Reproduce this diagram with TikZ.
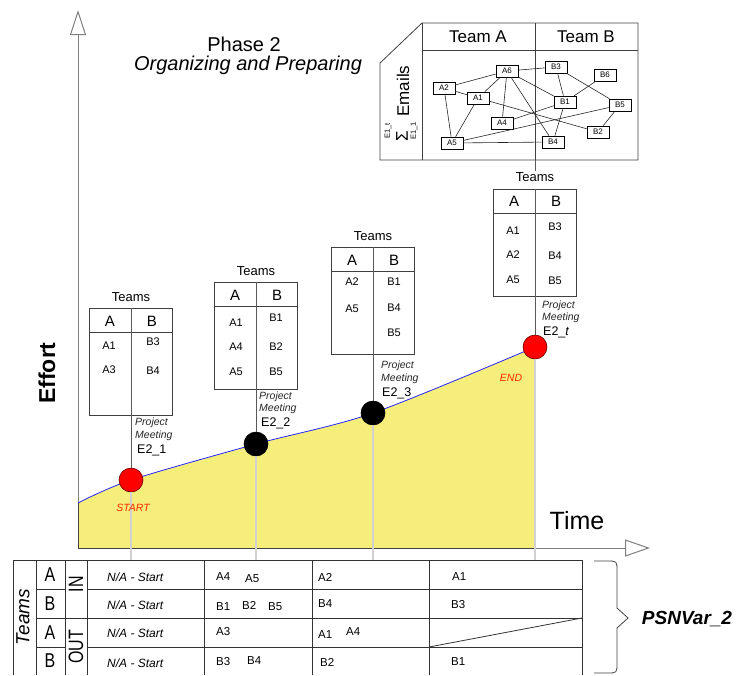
\documentclass[tikz,border=0pt]{standalone}
\usepackage{fontspec}
\setmainfont{Liberation Sans}
\usetikzlibrary{arrows.meta}
\definecolor{yel}{RGB}{245,238,122}
\definecolor{ptred}{RGB}{255,0,0}
\definecolor{lbred}{RGB}{255,40,0}
\newcommand{\FSz}[1]{\fontsize{#1}{#1}\selectfont}
\begin{document}
\begin{tikzpicture}[x=1pt,y=-1pt,
  axis/.style={draw=black!50, line width=1pt},
  ptbase/.style={circle, minimum size=24pt, inner sep=0pt, line width=0.6pt},
  redpt/.style={ptbase, fill=ptred, draw=red!40!black},
  blkpt/.style={ptbase, fill=black, draw=black},
  tabbox/.style={draw=black!75, line width=0.8pt, minimum width=83pt, minimum height=107pt, inner sep=0pt},
  tabline/.style={draw=black!75, line width=0.8pt},
  conn/.style={draw=black!65, line width=0.9pt},
  light/.style={draw=black!18, line width=1.2pt},
  teamslbl/.style={font=\FSz{13}, inner sep=1pt},
  hdr/.style={font=\FSz{15}, inner sep=0pt},
  ent/.style={font=\FSz{11}, inner sep=0pt},
  meet/.style={font=\FSz{10.5}\itshape, inner sep=0pt, anchor=west, text=black!85},
  evt/.style={font=\FSz{12.5}, inner sep=0pt, anchor=west},
  net/.style={draw=black, fill=white, line width=0.6pt, minimum width=22pt, minimum height=12pt, inner sep=0pt, font=\FSz{8}},
  netedge/.style={draw=black!85, line width=0.6pt},
  grid/.style={draw=black!80, line width=0.8pt},
  cell/.style={font=\FSz{11.5}, inner sep=0pt, anchor=west},
  nastyle/.style={font=\FSz{12}\itshape, inner sep=0pt, anchor=west},
  big/.style={font=\FSz{16}, inner sep=0pt},
]
\useasboundingbox (0,0) rectangle (736,675);

% --- effort area ---
\fill[yel] (78,548) -- plot[smooth] coordinates {(78,503) (131,480) (256,444) (373,413) (535,347)} -- (535,548) -- cycle;
\draw[axis, -{Triangle[open, length=25pt, width=16pt, fill=white]}] (78,548) -- (78,10);
\draw[axis, -{Triangle[open, length=25pt, width=17pt, fill=white]}] (78,548) -- (650,548);
\draw[black!75, line width=0.8pt] (78,503) -- (78,548) -- (535,548);
\draw[blue!85, line width=0.8pt] plot[smooth] coordinates {(78,503) (131,480) (256,444) (373,413) (535,347)};

% --- meeting points ---
\node[redpt] (p1) at (131,480) {};
\node[blkpt] (p2) at (256,444) {};
\node[blkpt] (p3) at (373,413) {};
\node[redpt] (p4) at (535,347) {};
\coordinate (b1) at (131,560);
\coordinate (b2) at (256,560);
\coordinate (b3) at (373,560);
\coordinate (b4) at (535,560);
\draw[light] (p1.south) -- (b1);
\draw[light] (p2.south) -- (b2);
\draw[light] (p3.south) -- (b3);
\draw[light] (p4.south) -- (b4);
\node[font=\FSz{10.5}\itshape, text=lbred, inner sep=0pt] (st) at (133,508) {START};
\node[font=\FSz{10.5}\itshape, text=lbred, inner sep=0pt] (en) at (511,378) {END};

% --- team tables ---
\node[tabbox] (t1) at (131,361.5) {};
\node[tabbox] (t2) at (256,335.5) {};
\node[tabbox] (t3) at (373,300.5) {};
\node[tabbox] (t4) at (535,242.5) {};
\foreach \t in {t1,t2,t3,t4}{
  \draw[tabline] ([yshift=-25pt]\t.north west) -- ([yshift=-25pt]\t.north east);
}
\draw[conn] (t1.north) -- (p1.north);
\draw[conn] (t2.north) -- (p2.north);
\draw[conn] (t3.north) -- (p3.north);
\draw[conn] (t4.north) -- (p4.north);

\node[teamslbl] (tl1) at (131,297) {Teams};
\node[teamslbl] (tl2) at (256,271) {Teams};
\node[teamslbl] (tl3) at (373,236) {Teams};
\node[teamslbl] (tl4) at (535,177) {Teams};

\node[hdr] (h1a) at (110,321) {A};
\node[hdr] (h1b) at (152,321) {B};
\node[hdr] (h2a) at (235,295) {A};
\node[hdr] (h2b) at (277,295) {B};
\node[hdr] (h3a) at (352,260) {A};
\node[hdr] (h3b) at (394,260) {B};
\node[hdr] (h4a) at (514,201) {A};
\node[hdr] (h4b) at (556,201) {B};

\node[ent] (e1a1) at (109,346) {A1};
\node[ent] (e1a3) at (109,370) {A3};
\node[ent] (e1b3) at (153,342) {B3};
\node[ent] (e1b4) at (153,371) {B4};

\node[ent] (e2a1) at (236,323) {A1};
\node[ent] (e2a4) at (236,347) {A4};
\node[ent] (e2a5) at (236,372) {A5};
\node[ent] (e2b1) at (276,318) {B1};
\node[ent] (e2b2) at (276,347) {B2};
\node[ent] (e2b5) at (276,372) {B5};

\node[ent] (e3a2) at (352,282) {A2};
\node[ent] (e3a5) at (352,309) {A5};
\node[ent] (e3b1) at (394,282) {B1};
\node[ent] (e3b4) at (394,308) {B4};
\node[ent] (e3b5) at (394,333) {B5};

\node[ent] (e4a1) at (513,231) {A1};
\node[ent] (e4a2) at (513,255) {A2};
\node[ent] (e4a5) at (513,280) {A5};
\node[ent] (e4b3) at (555,227) {B3};
\node[ent] (e4b4) at (555,256) {B4};
\node[ent] (e4b5) at (555,281) {B5};

\node[meet] (m1p) at (135,423) {Project};
\node[meet] (m1m) at (135,436) {Meeting};
\node[evt]  (m1e) at (137,450) {E2\_1};
\node[meet] (m2p) at (259,397) {Project};
\node[meet] (m2m) at (259,409) {Meeting};
\node[evt]  (m2e) at (261,423) {E2\_2};
\node[meet] (m3p) at (381,366) {Project};
\node[meet] (m3m) at (381,379) {Meeting};
\node[evt]  (m3e) at (382,393) {E2\_3};
\node[meet] (m4p) at (542,306) {Project};
\node[meet] (m4m) at (542,318) {Meeting};
\node[evt]  (m4e) at (543,332) {E2\_\textit{t}};

% --- titles ---
\node[font=\FSz{20}, inner sep=0pt] (ph) at (244,44) {Phase 2};
\node[font=\FSz{20}\itshape, inner sep=0pt] (org) at (248,65) {Organizing and Preparing};
\node[rotate=90, font=\FSz{23}\bfseries, inner sep=0pt] (eff) at (47,373) {Effort};
\node[font=\FSz{25}, inner sep=0pt] (tim) at (577,521) {Time};

% --- email network box ---
\draw[tabline] (380,160) -- (380,63) -- (422,23) -- (638,23) -- (638,160) -- cycle;
\draw[tabline] (422,23) -- (422,160);
\draw[tabline] (422,50) -- (638,50);
\coordinate (nbt) at (535,23);
\coordinate (nbb) at (535,160);
\draw[tabline] (nbt) -- (nbb);
\draw[conn] (nbb) -- (tl4.north);
\node[font=\FSz{17}, inner sep=0pt] (ta) at (478,37) {Team A};
\node[font=\FSz{17}, inner sep=0pt] (tb) at (586,37) {Team B};
\node[rotate=90, font=\FSz{17}, inner sep=0pt] (em) at (403,91) {Emails};
\node[rotate=90, font=\FSz{17}, inner sep=0pt] (sig) at (402,136) {Σ};
\node[rotate=90, font=\FSz{7.5}, inner sep=0pt] (sgt) at (388,131) {E1\_t};
\node[rotate=90, font=\FSz{7.5}, inner sep=0pt] (sgb) at (414,131) {E1\_1};

\node[net] (nA6) at (507,71) {A6};
\node[net] (nB3) at (556,67) {B3};
\node[net] (nB6) at (605,75) {B6};
\node[net] (nA2) at (444,88) {A2};
\node[net] (nA1) at (478,98) {A1};
\node[net] (nB1) at (565,102) {B1};
\node[net] (nB5) at (620,105) {B5};
\node[net] (nA4) at (502,123) {A4};
\node[net] (nB2) at (598,132) {B2};
\node[net] (nA5) at (452,143) {A5};
\node[net] (nB4) at (553,142) {B4};
\foreach \a/\b in {nA2/nA6, nA2/nA1, nA2/nA5, nA1/nA6, nA1/nA5, nA1/nB2, nA6/nB3, nA6/nA4, nA6/nB1, nA6/nB4, nB3/nB1, nB3/nB5, nB6/nB1, nB1/nA4, nB1/nB4, nB5/nA5, nB5/nB2, nA5/nB4}{
  \draw[netedge] (\a) -- (\b);
}

% --- bottom table ---
\draw[grid] (13,560) -- (582,560);
\foreach \x in {13,36,65,87,204,312,429,582}{
  \draw[grid] (\x,560) -- (\x,675);
}
\draw[grid] (36,589) -- (65,589);
\draw[grid] (87,589) -- (582,589);
\draw[grid] (36,618) -- (582,618);
\draw[grid] (36,647) -- (65,647);
\draw[grid] (87,647) -- (582,647);
\draw[grid] (429,647) -- (582,618);

\node[rotate=90, font=\FSz{19}\itshape, inner sep=0pt] (tms) at (23,617) {Teams};
\node[big] (ra1) at (50,575) {\scalebox{1}[1.25]{A}};
\node[big] (rb1) at (50,604) {\scalebox{1}[1.25]{B}};
\node[big] (ra2) at (50,633) {\scalebox{1}[1.25]{A}};
\node[big] (rb2) at (50,661) {\scalebox{1}[1.25]{B}};
\node[rotate=90, big] (rin) at (76,584) {\scalebox{1}[1.3]{IN}};
\node[rotate=90, big] (rout) at (76,647) {\scalebox{1}[1.3]{OUT}};

\node[nastyle] (na1) at (107,577) {N/A - Start};
\node[nastyle] (na2) at (107,605) {N/A - Start};
\node[nastyle] (na3) at (107,633) {N/A - Start};
\node[nastyle] (na4) at (107,663) {N/A - Start};

\node[cell] (c1) at (216,577) {A4};
\node[cell] (c2) at (245,579) {A5};
\node[cell] (c3) at (216,607) {B1};
\node[cell] (c4) at (242,605) {B2};
\node[cell] (c5) at (268,607) {B5};
\node[cell] (c6) at (216,632) {A3};
\node[cell] (c7) at (216,662) {B3};
\node[cell] (c8) at (247,661) {B4};
\node[cell] (c9) at (318,577) {A2};
\node[cell] (c10) at (318,604) {B4};
\node[cell] (c11) at (318,635) {A1};
\node[cell] (c12) at (346,632) {A4};
\node[cell] (c13) at (320,662) {B2};
\node[cell] (c14) at (452,577) {A1};
\node[cell] (c15) at (451,605) {B3};
\node[cell] (c16) at (451,662) {B1};

% --- brace and label ---
\draw[black!75, line width=0.8pt] (594,561) -- (607,561) .. controls (617,561) .. (617,571) -- (617,608) -- (628,618) -- (617,628) -- (617,663) .. controls (617,673) .. (607,673) -- (594,673);
\node[font=\FSz{19}\bfseries\itshape, inner sep=0pt] (psn) at (687,619) {PSNVar\_2};
\end{tikzpicture}
\end{document}
